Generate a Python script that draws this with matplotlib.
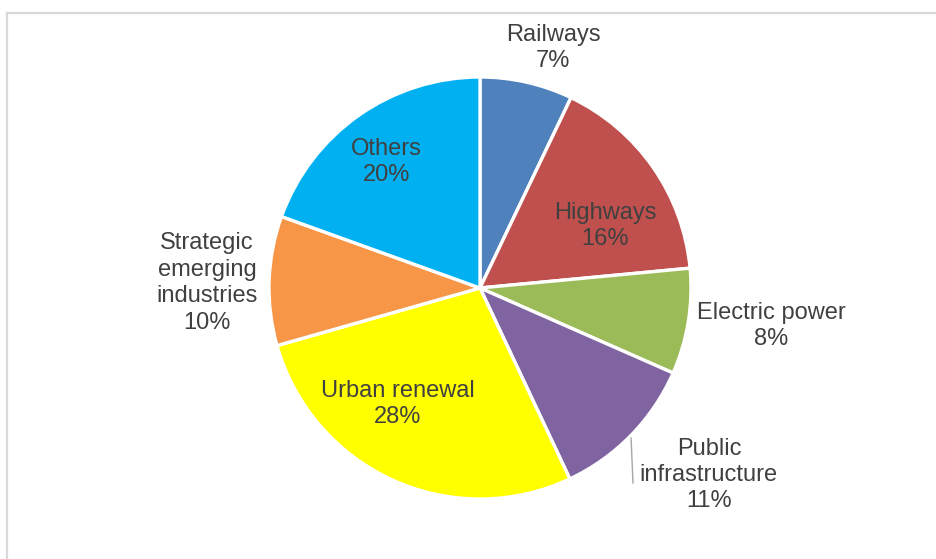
import matplotlib
matplotlib.use("Agg")
import matplotlib.pyplot as plt
from matplotlib.lines import Line2D

# ---- data ----
categories = ["Railways", "Highways", "Electric power", "Public\ninfrastructure",
              "Urban renewal", "Strategic\nemerging\nindustries", "Others"]
values = [7.1, 16.4, 8.1, 11.4, 27.6, 9.9, 19.5]
colors = ["#4f81bd", "#c0504d", "#9bbb59", "#8064a2", "#ffff00", "#f79646", "#00b0f0"]

# label positions in axes data units (pie radius = 1)
label_pos = [(0.346, 1.137), (0.592, 0.294), (1.379, -0.180), (1.085, -0.886),
             (-0.389, -0.550), (-1.294, 0.024), (-0.445, 0.597)]

W, H = 937, 559
fig = plt.figure(figsize=(W / 100, H / 100), dpi=100)
fig.patch.set_facecolor("white")

# outer frame (partially visible)
fig.add_artist(Line2D([7.5 / W, 1.0], [1 - 13 / H, 1 - 13 / H], color="#d9d9d9", lw=1.6,
                      transform=fig.transFigure))
fig.add_artist(Line2D([7.5 / W, 7.5 / W], [0.0, 1 - 13 / H], color="#d9d9d9", lw=1.6,
                      transform=fig.transFigure))

cx, cy, r = 480, 288, 211
ax = fig.add_axes([(cx - r) / W, (H - cy - r) / H, 2 * r / W, 2 * r / H])
ax.pie(values, colors=colors, startangle=90, counterclock=False, radius=1,
       wedgeprops=dict(edgecolor="white", linewidth=2.4))
ax.set_xlim(-1, 1)
ax.set_ylim(-1, 1)
ax.set_aspect("equal")
ax.axis("off")

for name, v, (x, y) in zip(categories, values, label_pos):
    ax.text(x, y, f"{name}\n{int(v + 0.5)}%", ha="center", va="center",
            fontsize=17, color="#404040", family=["Liberation Sans", "DejaVu Sans"],
            linespacing=1.26, clip_on=False)

# leader line for Public infrastructure
ax.plot([0.716, 0.725], [-0.711, -0.924], color="#a6a6a6", lw=1.0, clip_on=False)

fig.savefig("out.png", dpi=100, facecolor="white")
